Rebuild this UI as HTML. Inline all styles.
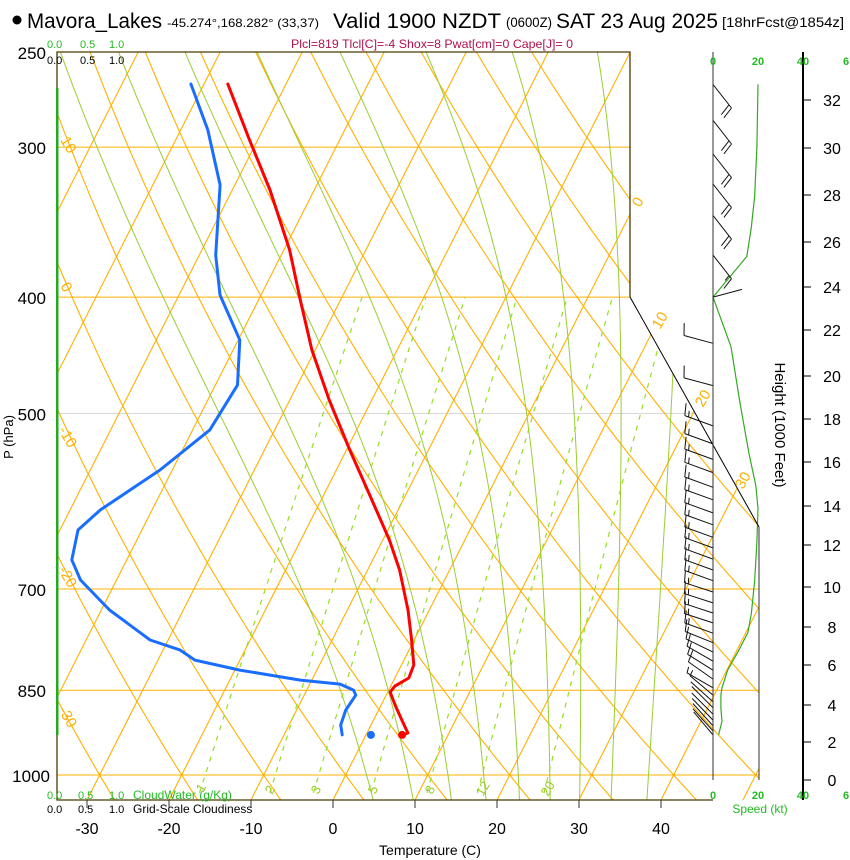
<!DOCTYPE html>
<html><head><meta charset="utf-8">
<style>
html,body{margin:0;padding:0;background:#fff;}
svg{display:block;font-family:"Liberation Sans",sans-serif;}
</style></head>
<body>
<svg id="chart" width="850" height="860" viewBox="0 0 850 860" xmlns="http://www.w3.org/2000/svg">
<defs>
<clipPath id="plotclip"><polygon points="57,52 630,52 630,297 759,527 759,800 57,800"/></clipPath>
</defs>
<g id="bg" clip-path="url(#plotclip)"></g>
<g id="profiles"></g>
<g id="winds"></g>

<polyline points="630,297 630,52 57,52 57,800 713,800" fill="none" stroke="#4a3a00" stroke-width="1.3"/>
<line x1="630" y1="297" x2="759" y2="527" stroke="#000" stroke-width="1"/>
<line x1="713" y1="52" x2="713" y2="780" stroke="#333" stroke-width="1"/>
<line x1="759" y1="527" x2="759" y2="780" stroke="#333" stroke-width="1"/>
<line x1="803" y1="52" x2="803" y2="800" stroke="#000" stroke-width="2"/>
<rect x="56" y="88" width="2.5" height="647" fill="#22aa22"/>
<g id="ticks"></g>

<g>
<circle cx="17" cy="20" r="4.5" fill="#000"/>
<text x="27" y="28" font-size="21" textLength="135" lengthAdjust="spacingAndGlyphs">Mavora_Lakes</text>
<text x="167" y="27" font-size="12" textLength="152" lengthAdjust="spacingAndGlyphs">-45.274°,168.282° (33,37)</text>
<text x="333" y="28" font-size="21" textLength="168" lengthAdjust="spacingAndGlyphs">Valid 1900 NZDT</text>
<text x="506" y="27" font-size="14" textLength="46" lengthAdjust="spacingAndGlyphs">(0600Z)</text>
<text x="556" y="28" font-size="21" textLength="162" lengthAdjust="spacingAndGlyphs">SAT 23 Aug 2025</text>
<text x="722" y="27" font-size="14" textLength="122" lengthAdjust="spacingAndGlyphs">[18hrFcst@1854z]</text>
<text x="432" y="48" font-size="12" fill="#b0104f" text-anchor="middle" textLength="282" lengthAdjust="spacingAndGlyphs">Plcl=819 Tlcl[C]=-4 Shox=8 Pwat[cm]=0 Cape[J]= 0</text>
</g>

<g font-size="11">
<text x="47" y="48" fill="#22bb22">0.0</text><text x="80" y="48" fill="#22bb22">0.5</text><text x="109" y="48" fill="#22bb22">1.0</text>
<text x="47" y="64" fill="#000">0.0</text><text x="80" y="64" fill="#000">0.5</text><text x="109" y="64" fill="#000">1.0</text>
<text x="47" y="799" fill="#22bb22">0.0</text><text x="78" y="799" fill="#22bb22">0.5</text><text x="109" y="799" fill="#22bb22">1.0</text>
<text x="133" y="799" fill="#22bb22" font-size="12">CloudWater (g/Kg)</text>
<text x="47" y="813" fill="#000">0.0</text><text x="78" y="813" fill="#000">0.5</text><text x="109" y="813" fill="#000">1.0</text>
<text x="133" y="813" fill="#000" font-size="12">Grid-Scale Cloudiness</text>
</g>

<text transform="translate(13,437) rotate(-90)" font-size="13" text-anchor="middle">P (hPa)</text>
<text x="430" y="855" font-size="14" text-anchor="middle">Temperature (C)</text>
<text transform="translate(775,425) rotate(90)" font-size="15" text-anchor="middle">Height (1000 Feet)</text>
<text x="760" y="813" font-size="12" fill="#22bb22" text-anchor="middle">Speed (kt)</text>

<g font-size="11" fill="#22bb22" font-weight="bold" text-anchor="middle">
<text x="713" y="65">0</text><text x="758" y="65">20</text><text x="803" y="65">40</text><text x="846" y="65">6</text>
<text x="713" y="799">0</text><text x="758" y="799">20</text><text x="803" y="799">40</text><text x="846" y="799">6</text>
</g>

<g font-size="15" fill="#ffb000">
<text transform="translate(60,140) rotate(60)">10</text>
<text transform="translate(60,286) rotate(60)">0</text>
<text transform="translate(58,430) rotate(60)">-10</text>
<text transform="translate(58,570) rotate(60)">-20</text>
<text transform="translate(58,710) rotate(60)">-30</text>
<text transform="translate(640,208) rotate(-60)">0</text>
<text transform="translate(660,330) rotate(-60)">10</text>
<text transform="translate(703,408) rotate(-60)">20</text>
<text transform="translate(743,490) rotate(-60)">30</text>
</g>
<g font-size="13" fill="#99cc22">
<text transform="translate(203,793) rotate(-60)">1</text>
<text transform="translate(272,795) rotate(-60)">2</text>
<text transform="translate(318,795) rotate(-60)">3</text>
<text transform="translate(375,795) rotate(-60)">5</text>
<text transform="translate(432,795) rotate(-60)">8</text>
<text transform="translate(483,797) rotate(-60)">12</text>
<text transform="translate(548,797) rotate(-60)">20</text>
</g>

<script>
const tempP = [926,922.7,903.5,874.5,853,843.2,830.3,809.8,772,728.8,675,637.2,590.2,536.2,487.2,442.7,402.2,365.4,325.7,295.9,265.8];
const tempC = [4.5,5.0,3.7,1.7,0.3,0.5,1.7,1.5,-0.3,-2.6,-6.1,-9.2,-13.8,-19.6,-25.2,-30.4,-34.9,-39.3,-45.4,-51.0,-57.1];
const dewP = [926,908.6,882.8,858,849.7,840,833.6,817.8,802.2,787,772,728.8,688,662,625.1,601.5,557.2,516,473.5,434.3,398.4,369,322.6,290.3,265.8];
const dewC = [-2.9,-3.7,-4.0,-3.7,-4.3,-6.3,-11.4,-19.4,-25.5,-27.9,-32.2,-39.0,-44.4,-46.7,-47.8,-46.3,-41.5,-37.9,-37.3,-39.8,-45.0,-48.0,-51.8,-56.7,-61.6];
const sfcP = 926, sfcT = 4.4, sfcTd = 0.6;
const tempTicks = [-30,-20,-10,0,10,20,30,40];
const pressTicks = [250,300,400,500,700,850,1000];
const heightTicks = [0,2,4,6,8,10,12,14,16,18,20,22,24,26,28,30,32];
const heightY = [780,742,705,665,627,587,545,506,462,419,376,330,287,242,195,148,100];
const mixRatios = [1,2,3,5,8,12,20];
const moistTopT = [-79.5,-72.4,-64.3,-55.5,-45.4,-34.9,-24.4,-14,-4];
const barbP = [266,285,304,322,342,369,400,437,474,512,530,546,560,576,590,605,619,634,647,661,675,689,704,719,733,747,762,776,790,804,818,832,846,858,869,879,890,900,910,919,926];
const barbDir = [142,142,142,142,142,142,75,285,285,290,290,290,290,290,290,290,290,290,290,290,290,290,288,288,288,288,290,292,296,300,302,305,300,310,312,315,315,316,318,318,320];
const barbSpd = [20,20,20,20,20,15,0,10,10,15,15,15,15,15,15,15,15,15,15,15,15,15,15,15,15,15,15,12,12,10,10,10,8,5,3,3,3,3,3,3,3];
const spdP = [266,300,330,350,370,400,440,490,540,574,600,640,690,734,761,790,818,846,858,880,902,926];
const spdKt = [20,19.5,18.5,17,15,0,8,12,16,19,20,19.5,18.5,17,15.5,11,6.5,4,3.5,3.5,4,2.5];

const NS='http://www.w3.org/2000/svg';
function yP(p){return 52+723*Math.log(p/250)/Math.log(4);}
function xT(T,y){return 333+8.2*T+0.507*(800-y);}
function xSpd(s){return 713+s*2.25;}
function mk(tag,attrs,parent){const e=document.createElementNS(NS,tag);for(const k in attrs)e.setAttribute(k,attrs[k]);parent.appendChild(e);return e;}
const bg=document.getElementById('bg');
const prof=document.getElementById('profiles');
const ticks=document.getElementById('ticks');
const winds=document.getElementById('winds');
const ORANGE='#ffb000';

[300,400,500,700,850,1000].forEach(p=>{
  const y=yP(p);
  const l=mk('line',{x1:57,y1:y,x2:760,y2:y,stroke:(p==500)?'#d8d8d8':ORANGE,'stroke-width':1},bg);
  
  
});
for(let T=-110;T<=50;T+=10){
  const l=mk('line',{x1:xT(T,800),y1:800,x2:xT(T,52),y2:52,stroke:ORANGE,'stroke-width':1.1},bg);
  
  
}
for(let k=-8;k<=10;k++){
  const th=273.15+10*k;let d='';
  for(let p=1060;p>=240;p-=10){const T=th*Math.pow(p/1000,0.2857)-273.15;const y=yP(p);d+=(d?'L':'M')+xT(T,y).toFixed(1)+','+y.toFixed(1);}
  const pa=mk('path',{d:d,fill:'none',stroke:ORANGE,'stroke-width':1.1},bg);
  
  
}
function es(Tk){return 6.112*Math.exp(17.67*(Tk-273.15)/(Tk-29.65));}
function dTdp(Tk,p){const Rd=287.04,cp=1005.7,Lv=2.501e6,eps=0.622;const e=es(Tk);const rs=eps*e/(p-e);
  return (Rd*Tk+Lv*rs)/(p*(cp+Lv*Lv*rs*eps/(Rd*Tk*Tk)));}
// moist adiabats: integrate downward from 250 hPa top temperature
moistTopT.forEach(tt=>{
  let T=273.15+tt;let pts=[];
  for(let p=250;p<=1060;p+=2){pts.push([p,T]);T+=dTdp(T,p)*2;}
  let d='';
  pts.forEach(([p,Tk])=>{const y=yP(p);d+=(d?'L':'M')+xT(Tk-273.15,y).toFixed(1)+','+y.toFixed(1);});
  const pa=mk('path',{d:d,fill:'none',stroke:'#9acd32','stroke-width':1},bg);
  
  
});
mixRatios.forEach(w=>{
  let d='';
  for(let p=1035;p>=400;p-=5){const e=w*p/(622+w);const L=Math.log(e/6.112);const Td=243.5*L/(17.67-L);const y=yP(p);d+=(d?'L':'M')+xT(Td,y).toFixed(1)+','+y.toFixed(1);}
  const pa=mk('path',{d:d,fill:'none',stroke:'#99dd22','stroke-width':1.2,'stroke-dasharray':'5,6'},bg);
  
  
});

tempTicks.forEach(T=>{
  const x=xT(T,800);
  const t=mk('line',{x1:x,y1:800,x2:x,y2:808,stroke:'#333'},ticks);
  
  
  const tx=mk('text',{x:x,y:834,'font-size':16,'text-anchor':'middle'},ticks);tx.textContent=T;
  
  
});
pressTicks.forEach(p=>{
  const tx=mk('text',{x:p==1000?50:46,y:yP(p)+7,'font-size':17,'text-anchor':'end'},ticks);tx.textContent=p;
  
  
});
heightTicks.forEach((h,i)=>{
  const y=heightY[i];
  const t=mk('line',{x1:803,y1:y,x2:811,y2:y,stroke:'#000'},ticks);
  
  
  const tx=mk('text',{x:832,y:y+6,'font-size':16,'text-anchor':'middle'},ticks);tx.textContent=h;
  
  
});

function line(P,C,color,name){
  let d='';P.forEach((p,i)=>{const y=yP(p);d+=(d?'L':'M')+xT(C[i],y).toFixed(1)+','+y.toFixed(1);});
  const pa=mk('path',{d:d,fill:'none',stroke:color,'stroke-width':3,'stroke-linejoin':'round','stroke-linecap':'round'},prof);
  
  
}
line(dewP,dewC,'#1a6eff','dewpoint-line');
line(tempP,tempC,'#ff0000','temperature-line');
const sy=yP(sfcP);
const c1=mk('circle',{cx:xT(sfcTd,sy),cy:sy,r:4,fill:'#1a6eff'},prof);


const c2=mk('circle',{cx:xT(sfcT,sy),cy:sy,r:4,fill:'#ff0000'},prof);



let sd='';spdP.forEach((p,i)=>{const y=yP(p);sd+=(sd?'L':'M')+xSpd(spdKt[i]).toFixed(1)+','+y.toFixed(1);});
const sc=mk('path',{d:sd,fill:'none',stroke:'#33aa22','stroke-width':1.2},winds);



barbP.forEach((p,i)=>{
  const y=yP(p),x=713,L=30;const a=barbDir[i]*Math.PI/180;
  const ux=Math.sin(a),uy=-Math.cos(a);const fx=-uy,fy=ux;
  const tx=x+ux*L,ty=y+uy*L;
  let d='M'+x+','+y.toFixed(1)+'L'+tx.toFixed(1)+','+ty.toFixed(1);
  let s=barbSpd[i];let pos=0;
  while(s>=10){const bx=tx-ux*pos,by=ty-uy*pos;d+='M'+bx.toFixed(1)+','+by.toFixed(1)+'l'+(fx*12+ux*3).toFixed(1)+','+(fy*12+uy*3).toFixed(1);s-=10;pos+=4;}
  if(s>=5){const bx=tx-ux*pos,by=ty-uy*pos;d+='M'+bx.toFixed(1)+','+by.toFixed(1)+'l'+(fx*6+ux*1.5).toFixed(1)+','+(fy*6+uy*1.5).toFixed(1);}
  const b=mk('path',{d:d,fill:'none',stroke:'#111','stroke-width':1},winds);
  
  
});
</script>
</svg>
</body></html>
